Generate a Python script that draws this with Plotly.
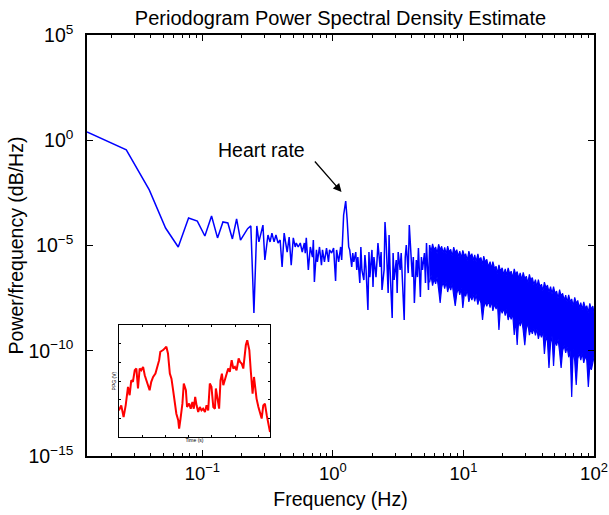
import plotly.graph_objects as go

# ---------------- data ----------------
# lowest periodogram bins (Hz) and log10 PSD
freq_low = [0.01306, 0.02612, 0.03918, 0.05224, 0.06530, 0.07836, 0.09142, 0.10448,
            0.11754, 0.13060, 0.14366, 0.15672, 0.16978, 0.18284, 0.19590, 0.20896,
            0.22202, 0.23508, 0.24814, 0.26120]
psd_low = [0.39, -0.46, -2.36, -4.17, -5.07, -3.69, -3.84, -4.55, -3.60, -4.64, -3.88,
           -3.93, -4.69, -3.74, -4.74, -4.45, -4.20, -4.07, -8.21, -4.07]

freq_mid = [0.271, 0.291, 0.301, 0.318, 0.330, 0.341, 0.354, 0.366, 0.380, 0.394, 0.408,
            0.423, 0.446, 0.462, 0.479, 0.497, 0.514, 0.524, 0.542, 0.562, 0.582, 0.604,
            0.614, 0.625, 0.648, 0.671, 0.697, 0.708, 0.721, 0.748, 0.760, 0.789, 0.817,
            0.832, 0.861, 0.893, 0.925, 0.942, 0.977, 1.012, 1.048, 1.067, 1.106, 1.146,
            1.167, 1.208, 1.253, 1.286, 1.321, 1.345, 1.393, 1.419, 1.445, 1.496, 1.523,
            1.552, 1.607, 1.637, 1.667, 1.726, 1.758, 1.790, 1.854, 1.888, 1.919, 1.991,
            2.028, 2.061, 2.138, 2.178, 2.213, 2.296, 2.339, 2.377, 2.466, 2.506, 2.553,
            2.649, 2.692, 2.742, 2.844, 2.891, 2.944, 3.055, 3.105, 3.162, 3.273, 3.334,
            3.396, 3.516, 3.581, 3.648, 3.776, 3.846, 3.917, 4.055, 4.130, 4.207, 4.355,
            4.436, 4.519, 4.677, 4.764, 4.853, 5.023, 5.117, 5.212, 5.395]
psd_mid = [-4.83, -4.03, -5.69, -4.50, -4.83, -4.41, -4.83, -4.50, -4.88, -4.74, -6.02,
           -4.41, -5.31, -4.60, -5.93, -4.64, -5.07, -4.88, -5.07, -4.88, -5.31, -4.88,
           -5.36, -4.64, -6.16, -5.07, -5.55, -4.74, -6.73, -5.21, -5.78, -5.07, -5.93,
           -5.21, -5.78, -5.12, -5.78, -5.21, -5.36, -5.12, -6.69, -5.21, -5.78, -5.07,
           -5.69, -3.55, -2.89, -3.79, -5.07, -5.21, -6.02, -5.36, -5.78, -5.31, -6.16,
           -5.55, -6.78, -5.07, -6.16, -6.64, -5.45, -6.02, -8.06, -5.31, -6.50, -5.21,
           -6.97, -5.55, -6.50, -5.69, -4.88, -6.02, -5.31, -7.11, -6.16, -3.88, -4.74,
           -7.26, -4.50, -6.16, -8.44, -5.36, -6.64, -5.69, -7.26, -5.31, -6.16, -5.36,
           -6.73, -8.54, -5.55, -4.98, -6.31, -4.03, -4.88, -6.50, -5.55, -7.73, -5.69,
           -6.50, -5.12, -7.45, -5.55, -6.16, -5.36, -6.78, -4.88, -7.11]

# high-frequency part: the trace is so dense it reads as a band (upper / lower edge, log10)
freq_high = [5.50, 5.65, 5.80, 5.96, 6.12, 6.28, 6.45, 6.63, 6.81, 6.99, 7.18, 7.37, 7.57,
             7.78, 7.99, 8.20, 8.42, 8.65, 8.89, 9.13, 9.37, 9.63, 9.89, 10.2, 10.4, 10.7,
             11.0, 11.3, 11.6, 11.9, 12.2, 12.5, 12.9, 13.2, 13.6, 14.0, 14.3, 14.7, 15.1,
             15.5, 16.0, 16.4, 16.8, 17.3, 17.8, 18.2, 18.7, 19.2, 19.8, 20.3, 20.9, 21.4,
             22.0, 22.6, 23.2, 23.8, 24.5, 25.1, 25.8, 26.5, 27.2, 28.0, 28.7, 29.5, 30.3,
             31.1, 32.0, 32.8, 33.7, 34.6, 35.6, 36.5, 37.5, 38.5, 39.6, 40.6, 41.7, 42.9,
             44.0, 45.2, 46.5, 47.7, 49.0, 50.3, 51.7, 53.1, 54.5, 56.0, 57.5, 59.1, 60.7,
             62.3, 64.0, 65.7, 67.5, 69.3, 71.2, 73.1, 75.1, 77.1, 79.2, 81.3, 83.5, 85.8,
             88.1, 90.5, 92.9, 95.4, 98.0, 100.0]
psd_high_top = [-4.98, -5.29, -4.92, -5.21, -5.07, -5.38, -4.94, -5.20, -5.04, -5.36,
                -5.09, -5.40, -5.03, -5.32, -5.18, -5.51, -5.08, -5.35, -5.20, -5.52,
                -5.27, -5.59, -5.23, -5.52, -5.39, -5.71, -5.27, -5.54, -5.39, -5.71,
                -5.45, -5.76, -5.40, -5.69, -5.57, -5.91, -5.50, -5.79, -5.66, -6.01,
                -5.77, -6.11, -5.77, -6.09, -5.99, -6.33, -5.92, -6.22, -6.06, -6.38,
                -6.11, -6.42, -6.06, -6.35, -6.22, -6.54, -6.11, -6.38, -6.24, -6.56,
                -6.30, -6.63, -6.28, -6.58, -6.46, -6.79, -6.37, -6.65, -6.52, -6.86,
                -6.62, -6.96, -6.62, -6.95, -6.84, -7.16, -6.74, -7.02, -6.88, -7.21,
                -6.95, -7.29, -6.95, -7.27, -7.17, -7.51, -7.10, -7.40, -7.27, -7.60,
                -7.36, -7.69, -7.35, -7.66, -7.54, -7.88, -7.46, -7.75, -7.61, -7.95,
                -7.71, -8.04, -7.68, -7.98, -7.86, -8.18, -7.75, -8.03, -7.88, -8.20]
psd_high_bottom = [-6.75, -6.43, -6.91, -6.59, -6.82, -6.50, -7.08, -7.73, -6.99, -6.72,
                   -7.05, -6.73, -7.21, -6.89, -7.12, -6.80, -7.38, -7.87, -7.29, -7.02,
                   -7.35, -7.03, -7.97, -7.19, -7.42, -7.10, -7.68, -7.36, -7.59, -7.32,
                   -7.65, -7.33, -7.81, -7.49, -7.72, -8.54, -7.98, -7.66, -7.89, -7.62,
                   -7.95, -7.63, -8.11, -7.79, -8.02, -7.70, -9.01, -7.96, -8.22, -7.97,
                   -8.33, -8.04, -8.54, -8.25, -8.51, -8.20, -9.25, -8.50, -9.73, -8.49,
                   -8.83, -8.53, -9.03, -9.73, -8.97, -8.67, -9.26, -8.96, -9.20, -8.93,
                   -9.27, -8.96, -9.44, -9.13, -9.36, -9.05, -10.15, -9.31, -9.55, -10.82,
                   -9.62, -9.31, -10.72, -9.51, -9.76, -9.45, -10.05, -10.82, -10.00, -9.75,
                   -10.10, -9.81, -10.31, -10.01, -12.20, -9.92, -10.50, -11.63, -10.39, -10.11,
                   -10.44, -10.11, -10.58, -10.25, -10.46, -11.72, -10.70, -10.91, -10.58, -10.30]

# inset PPG trace
ppg_time = [0.00, 0.10, 0.20, 0.29, 0.39, 0.46, 0.53, 0.60, 0.68, 0.75, 0.82, 0.89, 0.96,
            1.04, 1.11, 1.18, 1.25, 1.32, 1.39, 1.47, 1.57, 1.64, 1.73, 1.78, 1.90, 2.04,
            2.11, 2.19, 2.26, 2.33, 2.40, 2.47, 2.55, 2.59, 2.65, 2.73, 2.79, 2.88, 2.93,
            3.02, 3.09, 3.16, 3.22, 3.28, 3.34, 3.41, 3.48, 3.55, 3.62, 3.70, 3.77, 3.84,
            3.91, 3.98, 4.06, 4.13, 4.17, 4.24, 4.31, 4.37, 4.43, 4.49, 4.56, 4.63, 4.70,
            4.77, 4.85, 4.92, 4.99, 5.06, 5.15, 5.21, 5.28, 5.35, 5.42, 5.46, 5.52, 5.61,
            5.67, 5.75, 5.81, 5.87, 5.92, 6.00, 6.07, 6.14, 6.21, 6.28, 6.36, 6.43, 6.50]
ppg_volt = [1.43, 1.70, 1.07, 1.70, 2.69, 2.24, 3.04, 2.96, 3.58, 3.67, 2.60, 3.67, 3.58,
            3.76, 3.31, 3.04, 2.78, 2.51, 2.96, 3.22, 3.40, 3.67, 4.12, 4.57, 4.66, 4.84,
            4.48, 3.40, 3.13, 2.51, 1.97, 1.25, 0.90, 0.45, 0.99, 1.79, 2.87, 2.51, 1.61,
            1.79, 1.52, 1.88, 1.52, 2.15, 1.70, 1.34, 1.61, 1.43, 1.52, 1.34, 1.70, 1.43,
            2.87, 2.69, 1.61, 1.52, 2.60, 1.97, 1.52, 3.04, 3.40, 2.78, 3.13, 3.40, 3.67,
            3.49, 4.12, 3.67, 3.76, 3.58, 4.21, 4.03, 3.94, 3.67, 4.48, 4.93, 5.19, 4.66,
            3.58, 2.33, 3.22, 2.51, 2.06, 1.61, 1.34, 0.99, 1.70, 1.79, 1.16, 0.72, 0.27]

x_tick_vals = [0.1, 1, 10, 100]
x_tick_text = ["10<sup>−1</sup>", "10<sup>0</sup>", "10<sup>1</sup>", "10<sup>2</sup>"]
x_minor_vals = [0.02, 0.03, 0.04, 0.05, 0.06, 0.07, 0.08, 0.09,
                0.2, 0.3, 0.4, 0.5, 0.6, 0.7, 0.8, 0.9,
                2, 3, 4, 5, 6, 7, 8, 9, 20, 30, 40, 50, 60, 70, 80, 90]
y_tick_vals = [1e-15, 1e-10, 1e-5, 1, 1e5]
y_tick_text = ["10<sup>−15</sup>", "10<sup>−10</sup>", "10<sup>−5</sup>", "10<sup>0</sup>", "10<sup>5</sup>"]

# ---------------- figure ----------------
BLUE = "#0000ff"
FONT = "Liberation Sans, Arial, Helvetica, sans-serif"

line_freq = freq_low + freq_mid
line_psd = [10 ** v for v in (psd_low + psd_mid)]
band_x = freq_high + freq_high[::-1]
band_y = [10 ** v for v in (psd_high_top + psd_high_bottom[::-1])]

fig = go.Figure()
fig.add_trace(go.Scatter(x=line_freq + [freq_high[0]], y=line_psd + [10 ** psd_high_top[0]],
                         mode="lines", line=dict(color=BLUE, width=1.5), hoverinfo="skip"))
fig.add_trace(go.Scatter(x=band_x, y=band_y, mode="lines", fill="toself", fillcolor=BLUE,
                         line=dict(color=BLUE, width=1.2), hoverinfo="skip"))
fig.add_trace(go.Scatter(x=ppg_time, y=ppg_volt, mode="lines", xaxis="x2", yaxis="y2",
                         line=dict(color="#ff0000", width=2), hoverinfo="skip"))

axis_common = dict(showline=True, linecolor="black", linewidth=1.5, mirror="allticks",
                   showgrid=False, zeroline=False, ticks="inside", tickcolor="black",
                   tickwidth=1, ticklabeloverflow="allow", automargin=False)
inset_common = dict(showline=True, linecolor="black", linewidth=1.2, mirror="ticks",
                    showgrid=False, zeroline=False, ticks="inside", tickcolor="black",
                    ticklen=2, showticklabels=False, automargin=False)

fig.update_layout(
    width=609, height=515,
    margin=dict(l=87, r=15, t=35, b=59),
    paper_bgcolor="white", plot_bgcolor="white",
    showlegend=False,
    font=dict(family=FONT, color="black", size=18),
    title=dict(text="Periodogram Power Spectral Density Estimate",
               x=0.5, xref="paper", xanchor="center",
               y=1 - 18 / 515, yref="container", yanchor="middle",
               font=dict(size=20, family=FONT, color="black")),
    xaxis=dict(type="log", range=[-1.884, 2.0001], tickvals=x_tick_vals, ticktext=x_tick_text,
               ticklen=6, tickfont=dict(size=18.5),
               minor=dict(tickvals=x_minor_vals, ticks="inside", ticklen=3,
                          tickcolor="black", showgrid=False),
               title=dict(text="Frequency (Hz)", font=dict(size=19.5), standoff=9),
               **axis_common),
    yaxis=dict(type="log", range=[-15, 5], tickvals=y_tick_vals, ticktext=y_tick_text,
               ticklen=6, tickfont=dict(size=19.5), ticklabelstandoff=8,
               title=dict(text="Power/frequency (dB/Hz)", font=dict(size=19.5), standoff=0),
               **axis_common),
    xaxis2=dict(domain=[0.063, 0.361], anchor="y2", range=[0, 6.5],
                tickvals=[1, 2, 3, 4, 5, 6],
                title=dict(text="Time (s)", font=dict(size=5), standoff=1),
                **inset_common),
    yaxis2=dict(domain=[0.045, 0.311], anchor="x2", range=[0, 6],
                tickvals=[1, 2, 3, 4, 5],
                title=dict(text="PPG (V)", font=dict(size=5), standoff=1),
                **inset_common),
)

# "Heart rate" annotation (log axes -> positions in log10 units)
fig.add_annotation(x=0.066, y=-2.46, xref="x", yref="y", text="",
                   showarrow=True, arrowhead=2, arrowsize=1.3, arrowwidth=1.3,
                   arrowcolor="black", ax=-28, ay=-32)
fig.add_annotation(x=-0.544, y=-0.46, xref="x", yref="y", text="Heart rate",
                   showarrow=False, font=dict(size=19.5, family=FONT, color="black"))

fig.write_html("out.html", config={"displayModeBar": False},
               post_script="document.body.style.margin='0px';")
